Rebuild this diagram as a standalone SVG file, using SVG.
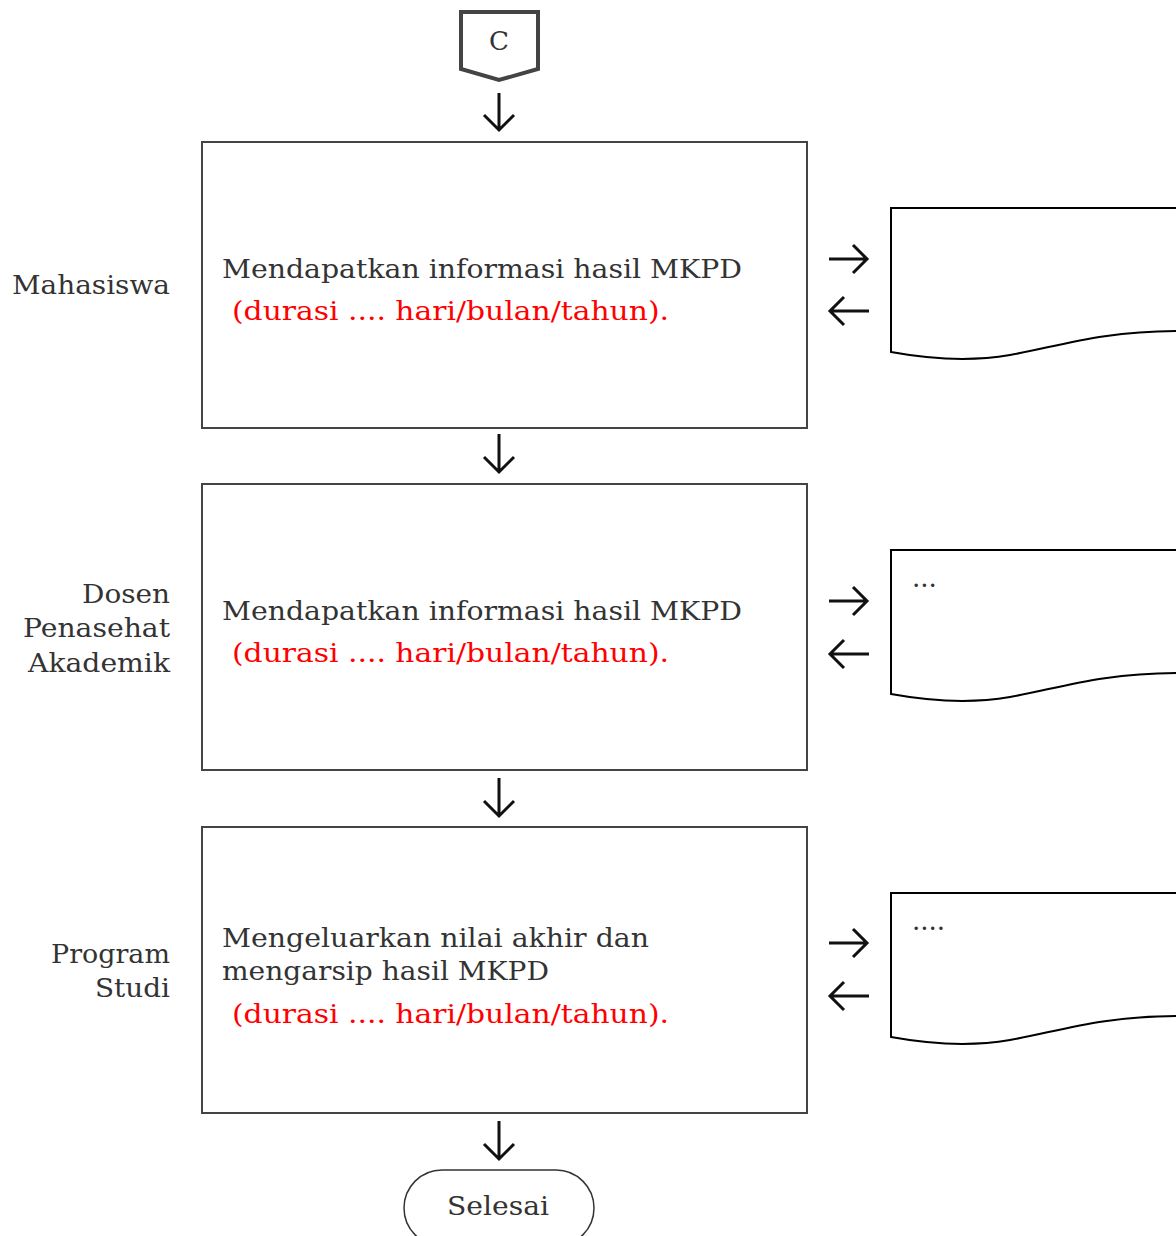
<svg xmlns="http://www.w3.org/2000/svg" width="1176" height="1236" viewBox="0 0 1176 1236">
<style>
text{font-family:"DejaVu Serif","Liberation Serif",serif;font-size:26px;fill:#333}
.red{fill:#f00}
.box{fill:#fff;stroke:#444;stroke-width:2}
.doc{fill:#fff;stroke:#000;stroke-width:2}
.arr{fill:none;stroke:#111;stroke-width:3;stroke-linecap:butt}
</style>
<rect width="1176" height="1236" fill="#fff"/>
<g id="start">
<polygon points="461,12 538,12 538,69 499,80 461,69" fill="#fff" stroke="#444" stroke-width="4"/>
<text x="489" y="50" textLength="20" lengthAdjust="spacingAndGlyphs">C</text>
</g>
<g id="lane-labels">
<text x="12" y="294" textLength="158" lengthAdjust="spacingAndGlyphs">Mahasiswa</text>
<text x="82" y="603" textLength="88" lengthAdjust="spacingAndGlyphs">Dosen</text>
<text x="23" y="637" textLength="147" lengthAdjust="spacingAndGlyphs">Penasehat</text>
<text x="28" y="672" textLength="142" lengthAdjust="spacingAndGlyphs">Akademik</text>
<text x="51" y="963" textLength="119" lengthAdjust="spacingAndGlyphs">Program</text>
<text x="95" y="997" textLength="75" lengthAdjust="spacingAndGlyphs">Studi</text>
</g>
<g id="step1">
<rect class="box" x="202" y="142" width="605" height="286"/>
<text x="222" y="278" textLength="520" lengthAdjust="spacingAndGlyphs">Mendapatkan informasi hasil MKPD</text>
<text class="red" x="232" y="320" textLength="437" lengthAdjust="spacingAndGlyphs">(durasi .... hari/bulan/tahun).</text>
</g>
<g id="step2">
<rect class="box" x="202" y="484" width="605" height="286"/>
<text x="222" y="620" textLength="520" lengthAdjust="spacingAndGlyphs">Mendapatkan informasi hasil MKPD</text>
<text class="red" x="232" y="662" textLength="437" lengthAdjust="spacingAndGlyphs">(durasi .... hari/bulan/tahun).</text>
</g>
<g id="step3">
<rect class="box" x="202" y="827" width="605" height="286"/>
<text x="222" y="947" textLength="427" lengthAdjust="spacingAndGlyphs">Mengeluarkan nilai akhir dan</text>
<text x="222" y="980" textLength="327" lengthAdjust="spacingAndGlyphs">mengarsip hasil MKPD</text>
<text class="red" x="232" y="1023" textLength="437" lengthAdjust="spacingAndGlyphs">(durasi .... hari/bulan/tahun).</text>
</g>
<g id="doc1">
<path class="doc" d="M891,208 H1180 V331 C1100,331 1060,346 1010,355 C975,361 935,360 891,352 Z"/>
</g>
<g id="doc2">
<path class="doc" d="M891,550 H1180 V673 C1100,673 1060,688 1010,697 C975,703 935,702 891,694 Z"/>
<text x="912" y="587" font-size="18">...</text>
</g>
<g id="doc3">
<path class="doc" d="M891,893 H1180 V1016 C1100,1016 1060,1031 1010,1040 C975,1046 935,1045 891,1037 Z"/>
<text x="912" y="930" font-size="18">....</text>
</g>
<g id="end">
<rect x="404" y="1170" width="190" height="76" rx="38" fill="#fff" stroke="#333" stroke-width="1.5"/>
<text x="447" y="1215" textLength="102" lengthAdjust="spacingAndGlyphs">Selesai</text>
</g>
<g id="connectors">
<path class="arr" d="M499,93 V130 M484,115 L499,130 L514,115"/>
<path class="arr" d="M499,434 V472 M484,457 L499,472 L514,457"/>
<path class="arr" d="M499,778 V816 M484,801 L499,816 L514,801"/>
<path class="arr" d="M499,1121 V1159 M484,1144 L499,1159 L514,1144"/>
<path class="arr" d="M829,259 H867 M853,245 L867,259 L853,273"/>
<path class="arr" d="M830,311 H869 M844,297 L830,311 L844,325"/>
<path class="arr" d="M829,601 H867 M853,587 L867,601 L853,615"/>
<path class="arr" d="M830,654 H869 M844,640 L830,654 L844,668"/>
<path class="arr" d="M829,943 H867 M853,929 L867,943 L853,957"/>
<path class="arr" d="M830,996 H869 M844,982 L830,996 L844,1010"/>
</g>
</svg>
